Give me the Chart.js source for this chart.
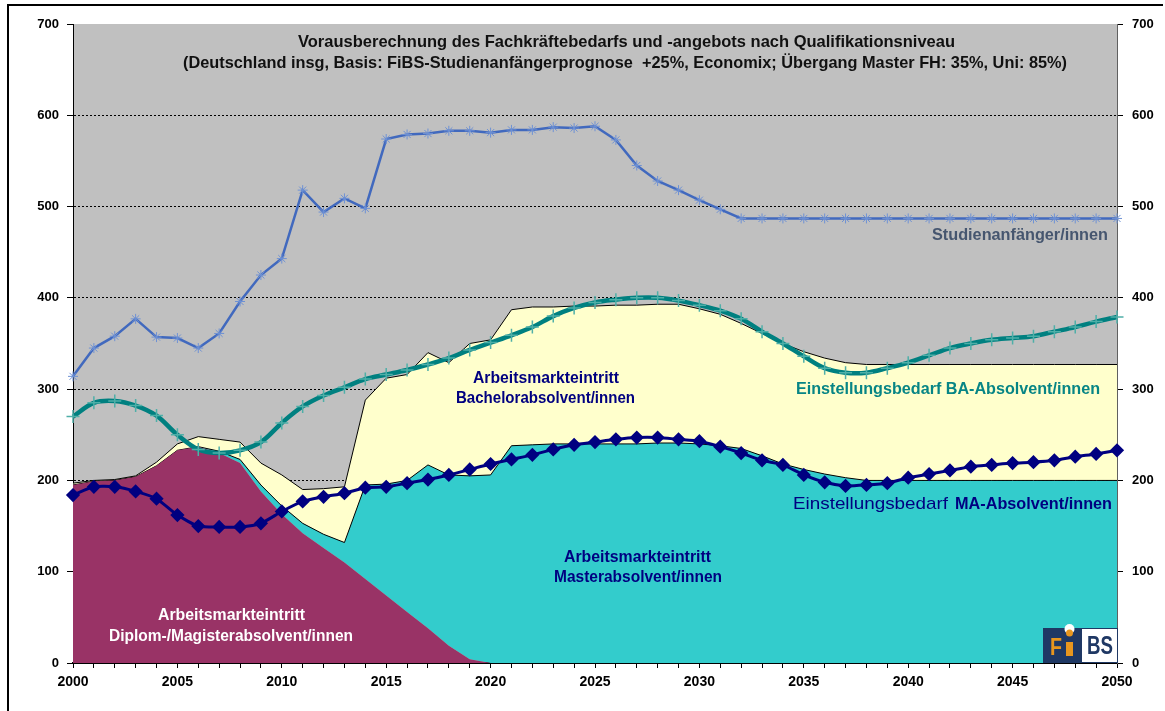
<!DOCTYPE html>
<html>
<head>
<meta charset="utf-8">
<script src="https://cdn.jsdelivr.net/npm/chart.js@4"></script>
<style>
html,body{margin:0;padding:0;background:#ffffff;}
#wrap{width:1165px;height:711px;position:relative;}
</style>
</head>
<body>
<div id="wrap"><canvas id="c" width="1165" height="711"></canvas></div>
<script>
// ---------- DATA ----------
const years = [2000,2001,2002,2003,2004,2005,2006,2007,2008,2009,
  2010,2011,2012,2013,2014,2015,2016,2017,2018,2019,
  2020,2021,2022,2023,2024,2025,2026,2027,2028,2029,
  2030,2031,2032,2033,2034,2035,2036,2037,2038,2039,
  2040,2041,2042,2043,2044,2045,2046,2047,2048,2049,2050];

const yTicks = [0,100,200,300,400,500,600,700];

// Arbeitsmarkteintritt Diplom-/Magisterabsolvent/innen (stacked layer 1)
const diplom = [195,199,200,204,216,233,237,230,219,188,
  163,142,126,110,92,74,56,38,19,4,
  0,0,0,0,0,0,0,0,0,0,
  0,0,0,0,0,0,0,0,0,0,
  0,0,0,0,0,0,0,0,0,0,0];

// Arbeitsmarkteintritt Masterabsolvent/innen (stacked layer 2)
const master = [0,0,0,0,0,0,0,2,4,7,
  9,11,15,22,103,122,144,179,187,201,
  206,238,239,240,240,240,240,240,241,241,
  240,238,235,227,218,212,207,203,200,200,
  200,200,200,200,200,200,200,200,200,200,200];

// Arbeitsmarkteintritt Bachelorabsolvent/innen (stacked layer 3)
const bachelor = [2,1,1,1,4,7,11,13,19,24,
  34,37,50,61,93,116,116,123,123,145,
  148,149,151,150,151,151,152,152,152,152,
  148,144,137,134,132,129,127,126,127,127,
  127,127,127,127,127,127,127,127,127,127,127];

// Studienanfänger/innen
const studienanfaenger = [314,345,358,377,357,356,345,361,396,425,
  443,518,494,509,498,574,579,580,583,583,
  581,584,584,587,586,588,573,545,528,518,
  507,497,487,487,487,487,487,487,487,487,
  487,487,487,487,487,487,487,487,487,487,487];

// Einstellungsbedarf BA-Absolvent/innen
const bedarfBA = [270,285,287,282,271,250,234,230,233,242,
  263,281,293,302,311,316,321,327,334,343,
  351,359,368,380,389,395,398,400,400,397,
  392,386,377,363,350,336,323,318,318,323,
  329,337,345,350,354,356,358,363,368,374,379];

// Einstellungsbedarf MA-Absolvent/innen
const bedarfMA = [184,193,193,188,180,162,150,149,149,153,
  166,177,182,186,192,193,197,201,206,212,
  218,223,228,234,239,242,245,247,247,245,
  243,237,230,222,217,206,198,194,195,197,
  203,207,211,215,217,219,220,222,226,229,233];

// cumulative tops of the stacked areas
const diplomTop = diplom.map(v => v);
const masterTop = diplom.map((v, i) => v + master[i]);
const bachelorTop = masterTop.map((v, i) => v + bachelor[i]);

// ---------- DRAW HELPERS ----------
const FONT = '"Liberation Sans", Arial, sans-serif';
function fitText(ctx, text, x, y, size, weight, color, width) {
  ctx.save();
  ctx.font = weight + ' ' + size + 'px ' + FONT;
  const w = ctx.measureText(text).width;
  const sx = width ? width / w : 1;
  ctx.translate(x, y);
  ctx.scale(sx, 1);
  ctx.textAlign = 'left';
  ctx.textBaseline = 'middle';
  ctx.fillStyle = color;
  ctx.fillText(text, 0, 0);
  ctx.restore();
}

const decor = {
  id: 'decor',
  beforeDraw(chart) {
    const {ctx, chartArea: a} = chart;
    ctx.save();
    ctx.fillStyle = '#C0C0C0';
    ctx.fillRect(a.left, a.top, a.right - a.left, a.bottom - a.top);
    ctx.restore();
  },
  afterDraw(chart) {
    const ctx = chart.ctx;
    // title
    fitText(ctx, 'Vorausberechnung des Fachkräftebedarfs und -angebots nach Qualifikationsniveau', 298, 42, 17, 'bold', '#111111', 657);
    fitText(ctx, '(Deutschland insg, Basis: FiBS-Studienanfängerprognose  +25%, Economix; Übergang Master FH: 35%, Uni: 85%)', 183, 63, 17, 'bold', '#111111', 884);
    // series labels
    fitText(ctx, 'Studienanfänger/innen', 932, 235, 17, 'bold', '#46566F', 176);
    fitText(ctx, 'Arbeitsmarkteintritt', 473, 379, 16, 'bold', '#000080', 146);
    fitText(ctx, 'Bachelorabsolvent/innen', 456, 399, 16, 'bold', '#000080', 179);
    fitText(ctx, 'Einstellungsbedarf BA-Absolvent/innen', 796, 390, 16, 'bold', '#078585', 304);
    fitText(ctx, 'Einstellungsbedarf', 793, 504, 17, 'normal', '#000080', 155);
    fitText(ctx, 'MA-Absolvent/innen', 955, 504, 17, 'bold', '#000080', 157);
    fitText(ctx, 'Arbeitsmarkteintritt', 564, 558, 16, 'bold', '#000080', 147);
    fitText(ctx, 'Masterabsolvent/innen', 554, 578, 16, 'bold', '#000080', 168);
    fitText(ctx, 'Arbeitsmarkteintritt', 158, 616, 16, 'bold', '#ffffff', 147);
    fitText(ctx, 'Diplom-/Magisterabsolvent/innen', 109, 637, 16, 'bold', '#ffffff', 244);
    // logo
    ctx.save();
    ctx.fillStyle = '#1F3864';
    ctx.fillRect(1043, 628, 38, 35);
    ctx.fillStyle = '#ffffff';
    ctx.fillRect(1081, 628, 37, 35);
    ctx.strokeStyle = '#1F3864';
    ctx.lineWidth = 1;
    ctx.strokeRect(1081.5, 628.5, 36, 34);
    ctx.fillStyle = '#E8961E';
    ctx.fillRect(1066, 642, 7, 14);
    ctx.beginPath(); ctx.fillStyle = '#ffffff'; ctx.arc(1069.5, 629, 5, 0, Math.PI * 2); ctx.fill();
    ctx.beginPath(); ctx.fillStyle = '#E8961E'; ctx.arc(1069.5, 633, 3.5, 0, Math.PI * 2); ctx.fill();
    ctx.restore();
    fitText(ctx, 'F', 1050, 648, 24, 'bold', '#E8961E', 12);
    fitText(ctx, 'BS', 1087, 647, 26, 'bold', '#1F3864', 26);
    // outer frame
    ctx.save();
    ctx.strokeStyle = '#000000';
    ctx.lineWidth = 2;
    ctx.beginPath();
    ctx.moveTo(8, 711); ctx.lineTo(8, 5); ctx.lineTo(1163, 5);
    ctx.stroke();
    ctx.restore();
  }
};

const tickFontY = {family: FONT, size: 13, weight: 'bold'};

new Chart(document.getElementById('c'), {
  type: 'line',
  data: {
    labels: years,
    datasets: [
      {label: 'Diplom', data: diplomTop, order: 5, fill: 'origin', backgroundColor: '#993366',
       borderWidth: 0, borderColor: 'rgba(0,0,0,0)', pointRadius: 0, tension: 0},
      {label: 'Master', data: masterTop, order: 5, fill: '-1', backgroundColor: '#33CCCC',
       borderWidth: 1, borderColor: '#000000', pointRadius: 0, tension: 0},
      {label: 'Bachelor', data: bachelorTop, order: 5, fill: '-1', backgroundColor: '#FFFFCC',
       borderWidth: 1, borderColor: '#000000', pointRadius: 0, tension: 0},
      {label: 'MA-Bedarf', data: bedarfMA, order: 3, fill: false, borderColor: '#000080', borderWidth: 3,
       pointStyle: 'rectRot', pointRadius: 5, pointBackgroundColor: '#000080', pointBorderColor: '#000080',
       tension: 0.2, clip: false},
      {label: 'BA-Bedarf', data: bedarfBA, order: 2, fill: false, borderColor: '#008080', borderWidth: 4.5,
       pointStyle: 'cross', pointRadius: 6.5, pointBorderColor: '#4FAFA8', pointBorderWidth: 1.5,
       tension: 0.35, clip: false},
      {label: 'Studienanfänger', data: studienanfaenger, order: 1, fill: false, borderColor: '#4169BE', borderWidth: 2.5,
       pointStyle: 'star', pointRadius: 5, pointBorderColor: '#6E91D4', pointBorderWidth: 1,
       tension: 0, clip: false}
    ]
  },
  options: {
    responsive: false,
    animation: false,
    devicePixelRatio: 1,
    layout: {padding: {top: 24, left: 0, right: 0, bottom: 0}},
    plugins: {legend: {display: false}, tooltip: {enabled: false}, title: {display: false}},
    scales: {
      x: {
        type: 'category',
        offset: false,
        afterFit: s => { s.height = 48; },
        grid: {drawOnChartArea: false, drawTicks: true, tickLength: 5, color: '#000000', tickColor: '#000000'},
        border: {color: '#000000', width: 2},
        ticks: {
          autoSkip: false, maxRotation: 0, minRotation: 0, padding: 6, color: '#000000',
          font: {family: FONT, size: 14, weight: 'bold'},
          callback: (v, i) => (years[i] % 5 === 0 ? String(years[i]) : '')
        }
      },
      y: {
        position: 'left', min: 0, max: 700,
        afterFit: s => { s.width = 73; },
        afterBuildTicks: s => { s.ticks = yTicks.map(v => ({value: v})); },
        grid: {
          color: c => (c.tick && c.tick.value >= 200 && c.tick.value <= 600) ? '#000000' : 'rgba(0,0,0,0)',
          tickColor: '#000000', tickLength: 6, lineWidth: 1
        },
        border: {color: '#000000', width: 1, dash: [2, 2]},
        ticks: {stepSize: 100, padding: 8, color: '#000000', font: tickFontY}
      },
      y2: {
        position: 'right', min: 0, max: 700,
        afterFit: s => { s.width = 48; },
        afterBuildTicks: s => { s.ticks = yTicks.map(v => ({value: v})); },
        grid: {drawOnChartArea: false, tickColor: '#000000', tickLength: 6},
        border: {color: '#606060', width: 1},
        ticks: {stepSize: 100, padding: 9, color: '#000000', font: tickFontY}
      }
    }
  },
  plugins: [decor]
});
</script>
</body>
</html>
